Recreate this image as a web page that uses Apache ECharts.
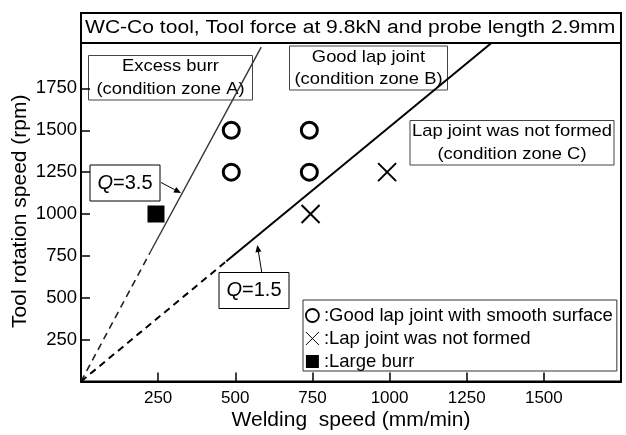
<!DOCTYPE html>
<html>
<head>
<meta charset="utf-8">
<script src="https://cdn.jsdelivr.net/npm/echarts@6/dist/echarts.min.js"></script>
<style>
  html, body { margin: 0; padding: 0; background: #fff; }
  #main { width: 626px; height: 435px; }
</style>
</head>
<body>
<div id="main"></div>
<script>
// measured points (welding speed mm/min, rotation speed rpm)
var goodJoint = [[487, 1500], [740, 1500], [487, 1250], [740, 1250]];
var notFormed = [[744, 1000], [992, 1250]];
var largeBurr = [[243, 1000]];

// Q boundary lines: dashed part from origin, then solid part
var q35Dashed = [[0, 0], [223, 767]];
var q35Solid = [[223, 767], [584, 1996]];
var q15Dashed = [[0, 0], [471, 718]];
var q15Solid = [[471, 718], [1331, 2023]];

var xTicks = [250, 500, 750, 1000, 1250, 1500];
var yTicks = [250, 500, 750, 1000, 1250, 1500, 1750];

var FONT = 'Liberation Sans, Arial, sans-serif';
var chart = echarts.init(document.getElementById('main'));

// text box helper (pixel layout for annotations)
function box(x, y, w, h, lines, size, sx, stroke) {
  var kids = [{
    type: 'rect',
    shape: { x: x, y: y, width: w, height: h },
    style: { fill: '#fff', stroke: stroke || '#444', lineWidth: 1 }
  }];
  var lh = h / lines.length;
  lines.forEach(function (t, i) {
    kids.push({
      type: 'text',
      x: x + w / 2, y: y + lh * (i + 0.5),
      scaleX: sx || 1,
      style: {
        text: t, fill: '#000', font: size + 'px ' + FONT,
        align: 'center', verticalAlign: 'middle'
      }
    });
  });
  return { type: 'group', children: kids, z: 100 };
}

function arrow(x1, y1, x2, y2) {
  var a = Math.atan2(y2 - y1, x2 - x1), L = 7, W = 3;
  var bx = x2 - L * Math.cos(a), by = y2 - L * Math.sin(a);
  return {
    type: 'group', z: 100, children: [
      { type: 'line', shape: { x1: x1, y1: y1, x2: bx, y2: by }, style: { stroke: '#000', lineWidth: 1 } },
      { type: 'polygon', shape: { points: [[x2, y2],
        [bx + W * Math.sin(a), by - W * Math.cos(a)],
        [bx - W * Math.sin(a), by + W * Math.cos(a)]] }, style: { fill: '#000' } }
    ]
  };
}

var qRich = {
  i: { fontStyle: 'italic', fontSize: 20, fontFamily: FONT },
  n: { fontSize: 20, fontFamily: FONT }
};

var lineBase = { type: 'line', symbol: 'none', silent: true, z: 3 };
var plain = function (v) { return String(v); };

chart.setOption({
  animation: false,
  grid: {
    left: 81, right: 5, top: 13, bottom: 53.5,
    outerBoundsMode: 'none', containLabel: false,
    show: true, borderColor: '#000', borderWidth: 2
  },
  xAxis: {
    type: 'value', min: 0, max: 1750, interval: 250,
    name: 'Welding  speed (mm/min)', nameLocation: 'middle', nameGap: 28,
    nameMoveOverlap: false,
    nameTextStyle: { fontSize: 21, fontFamily: FONT, color: '#000' },
    axisLine: { show: true, lineStyle: { color: '#000', width: 2 } },
    axisTick: { show: true, inside: true, length: 9, customValues: xTicks, lineStyle: { color: '#000', width: 1.5 } },
    axisLabel: { customValues: xTicks, formatter: plain, fontSize: 17, fontFamily: FONT, color: '#000', margin: 8 },
    splitLine: { show: false }
  },
  yAxis: {
    type: 'value', min: 0, max: 2200, interval: 250,
    name: 'Tool rotation speed (rpm)', nameLocation: 'middle', nameGap: 50,
    nameMoveOverlap: false,
    nameTextStyle: { fontSize: 21, fontFamily: FONT, color: '#000', padding: [0, 28, 0, 0] },
    axisLine: { show: true, lineStyle: { color: '#000', width: 2 } },
    axisTick: { show: true, inside: true, length: 9, customValues: yTicks, lineStyle: { color: '#000', width: 1.5 } },
    axisLabel: { customValues: yTicks, formatter: plain, fontSize: 18.5, fontFamily: FONT, color: '#000', margin: 4 },
    splitLine: { show: false }
  },
  legend: {
    orient: 'vertical', left: 303, top: 300,
    padding: [6, 4, 0, 2], itemGap: 4,
    itemWidth: 13, itemHeight: 13,
    backgroundColor: '#fff', borderColor: '#333', borderWidth: 1,
    textStyle: { fontSize: 18.5, fontFamily: FONT, color: '#000' },
    formatter: function (n) { return ':' + n; },
    data: [
      { name: 'Good lap joint with smooth surface', itemStyle: { borderWidth: 1.8 } },
      { name: 'Lap joint was not formed', itemStyle: { borderWidth: 1 } },
      { name: 'Large burr' }
    ],
    selectedMode: false, z: 100
  },
  graphic: [
    // title strip across the top of the plot
    {
      type: 'group', z: 100, children: [
        { type: 'rect', shape: { x: 81, y: 13, width: 540, height: 30 }, style: { fill: '#fff', stroke: '#000', lineWidth: 2 } },
        { type: 'text', x: 85, y: 28.5, scaleX: 1.17, style: {
          text: 'WC-Co tool, Tool force at 9.8kN and probe length 2.9mm',
          font: '18px ' + FONT, fill: '#000', verticalAlign: 'middle' } }
      ]
    },
    box(88.5, 55.5, 164, 44.5, ['Excess burr', '(condition zone A)'], 17, 1.08),
    box(289.5, 46, 158, 44, ['Good lap joint', '(condition zone B)'], 17, 1.08),
    box(410, 120.5, 204, 44.5, ['Lap joint was not formed', '(condition zone C)'], 17, 1.08),
    {
      type: 'group', z: 100, children: [
        { type: 'rect', shape: { x: 90, y: 165, width: 70, height: 36 }, style: { fill: '#fff', stroke: '#000', lineWidth: 1 } },
        { type: 'text', x: 125, y: 183, style: { text: '{i|Q}{n|=3.5}', rich: qRich, fill: '#000', align: 'center', verticalAlign: 'middle' } }
      ]
    },
    {
      type: 'group', z: 100, children: [
        { type: 'rect', shape: { x: 219, y: 272.5, width: 70, height: 36 }, style: { fill: '#fff', stroke: '#000', lineWidth: 1 } },
        { type: 'text', x: 254, y: 290.5, style: { text: '{i|Q}{n|=1.5}', rich: qRich, fill: '#000', align: 'center', verticalAlign: 'middle' } }
      ]
    },
    arrow(161, 182.5, 181, 193),
    arrow(261.7, 272, 257.3, 245)
  ],
  series: [
    Object.assign({ data: q35Dashed, lineStyle: { color: '#222', width: 1.6, type: [7, 5] } }, lineBase),
    Object.assign({ data: q35Solid, lineStyle: { color: '#333', width: 1.4 } }, lineBase),
    Object.assign({ data: q15Dashed, lineStyle: { color: '#000', width: 2, type: [7, 5] } }, lineBase),
    Object.assign({ data: q15Solid, lineStyle: { color: '#000', width: 2 } }, lineBase),
    {
      name: 'Good lap joint with smooth surface', type: 'scatter', z: 5,
      symbol: 'circle', symbolSize: 16,
      itemStyle: { color: '#fff', borderColor: '#000', borderWidth: 3, opacity: 1 },
      data: goodJoint
    },
    {
      name: 'Lap joint was not formed', type: 'scatter', z: 5,
      symbol: 'path://M0,0L10,10M0,10L10,0', symbolSize: 18,
      itemStyle: { color: 'transparent', borderColor: '#000', borderWidth: 2, opacity: 1 },
      data: notFormed
    },
    {
      name: 'Large burr', type: 'scatter', z: 5,
      symbol: 'rect', symbolSize: 17,
      itemStyle: { color: '#000', opacity: 1 },
      data: largeBurr
    }
  ]
});
</script>
</body>
</html>
